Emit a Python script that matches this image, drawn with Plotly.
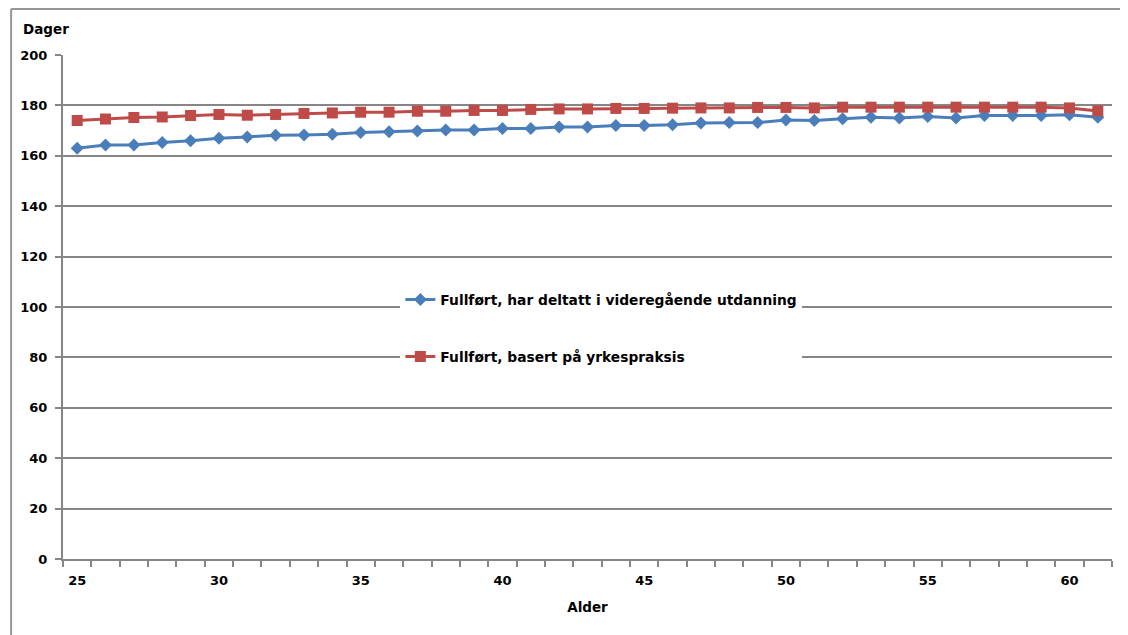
import plotly.graph_objects as go

ages = list(range(25, 62))
videregaende = [163.0, 164.3, 164.3, 165.3, 166.0, 167.0, 167.5, 168.2, 168.3, 168.6,
                169.2, 169.5, 169.8, 170.2, 170.2, 170.8, 170.8, 171.4, 171.4, 172.0,
                172.0, 172.3, 173.0, 173.2, 173.2, 174.2, 174.0, 174.7, 175.3, 175.0,
                175.6, 175.0, 176.0, 176.0, 176.0, 176.3, 175.3]
yrkespraksis = [174.0, 174.6, 175.2, 175.4, 176.0, 176.4, 176.1, 176.4, 176.8, 177.0,
                177.3, 177.3, 177.7, 177.7, 178.0, 178.0, 178.4, 178.6, 178.6, 178.8,
                178.8, 178.9, 179.0, 179.0, 179.2, 179.2, 179.0, 179.3, 179.3, 179.3,
                179.3, 179.3, 179.3, 179.3, 179.3, 179.0, 177.8]
names = ["Fullført, har deltatt i videregående utdanning",
         "Fullført, basert på yrkespraksis"]
x_tick_vals = [25, 30, 35, 40, 45, 50, 55, 60]
y_tick_vals = [0, 20, 40, 60, 80, 100, 120, 140, 160, 180, 200]

# page offset (body margin) of the rendered figure
O = 8
W, H = 1120, 627
L, R, T, B = 53, 16, 47, 76
pw, ph = W - L - R, H - T - B

def px(x):
    return (x - O - L) / pw

def py(y):
    return (H - B - (y - O)) / ph

fig = go.Figure()
fig.add_trace(go.Scatter(
    x=ages, y=videregaende, name=names[0], mode="lines+markers",
    line=dict(color="#4A7EBB", width=3),
    marker=dict(symbol="diamond", size=10, color="#4A7EBB"),
    legendgroup="a"))
fig.add_trace(go.Scatter(
    x=ages, y=yrkespraksis, name=names[1], mode="lines+markers",
    line=dict(color="#BE4B48", width=3),
    marker=dict(symbol="square", size=11, color="#BE4B48"),
    legendgroup="b"))

font = "DejaVu Sans, Liberation Sans, Arial, sans-serif"
fig.update_layout(
    width=W, height=H,
    margin=dict(l=L, r=R, t=T, b=B),
    paper_bgcolor="white", plot_bgcolor="white",
    font=dict(family=font, size=13, color="black"),
    showlegend=True,
    legend=dict(x=px(399), y=py(284), xanchor="left", yanchor="top",
                bgcolor="white", borderwidth=0,
                font=dict(family=font, size=13.8, color="black", weight="bold"),
                tracegroupgap=36, itemwidth=30),
    xaxis=dict(range=[24.5, 61.5], tickmode="array", tickvals=x_tick_vals,
               ticks="", showgrid=False, zeroline=False,
               showline=True, linecolor="#868686", linewidth=2,
               tickfont=dict(size=13, weight="bold"), ticklabelstandoff=8,
               minor=dict(tick0=24.5, dtick=1, ticks="outside", ticklen=6,
                          tickcolor="#868686", tickwidth=2, showgrid=False),
               title=dict(text="<b>Alder</b>", font=dict(size=13.5), standoff=16)),
    yaxis=dict(range=[0, 200], tickmode="array", tickvals=y_tick_vals,
               ticks="outside", ticklen=6, tickcolor="#868686", tickwidth=2,
               showgrid=True, gridcolor="#868686", gridwidth=2,
               zeroline=False, showline=True, linecolor="#868686", linewidth=2,
               tickfont=dict(size=13, weight="bold"), ticklabelstandoff=5),
    annotations=[dict(text="<b>Dager</b>", xref="paper", yref="paper",
                      x=px(19), y=py(29), xanchor="left", yanchor="middle",
                      showarrow=False, font=dict(size=13.5))],
    shapes=[
        dict(type="line", xref="paper", yref="paper",
             x0=px(9), x1=px(W + 20), y0=py(9), y1=py(9),
             line=dict(color="#969696", width=2)),
        dict(type="line", xref="paper", yref="paper",
             x0=px(9), x1=px(9), y0=py(9), y1=py(H + 20),
             line=dict(color="#969696", width=2)),
    ],
)

fig.write_html("out.html")
